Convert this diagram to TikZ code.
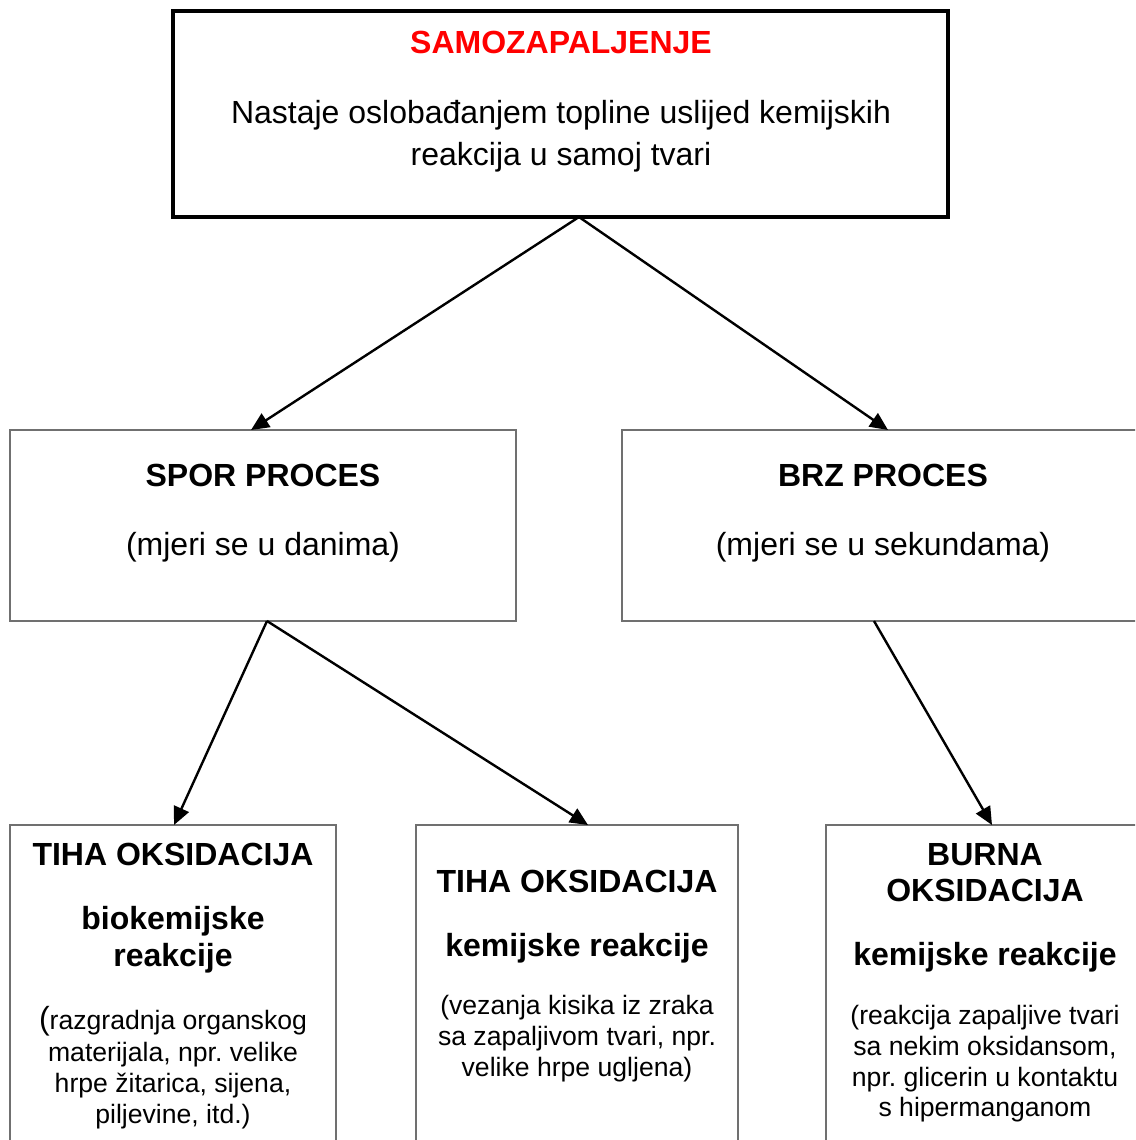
\documentclass[tikz,border=0pt]{standalone}
\usepackage{fontspec}
\setmainfont{Liberation Sans}
\usetikzlibrary{arrows.meta,calc}
\definecolor{boxgray}{HTML}{707070}
\definecolor{titlered}{HTML}{FF0000}
\frenchspacing
\begin{document}
\begin{tikzpicture}[x=1pt,y=-1pt,
  thinbox/.style={draw=boxgray,line width=1.4pt,outer sep=0pt,inner sep=0pt},
  thickbox/.style={draw=black,line width=4pt,outer sep=0pt,inner sep=0pt},
  big/.style={anchor=base,inner sep=0pt,font=\fontsize{32}{38}\selectfont},
  bigb/.style={anchor=base,inner sep=0pt,font=\fontsize{32}{38}\selectfont\bfseries},
  small/.style={anchor=base,inner sep=0pt,font=\fontsize{26.6}{31}\selectfont},
  conn/.style={line width=2.4pt,-{Triangle[length=18pt,width=16pt]}}]
\useasboundingbox (0,0) rectangle (1135,1140);
\clip (0,0) rectangle (1135,1140);
% boxes
\node[thickbox,minimum width=775pt,minimum height=206pt] (top) at (560.5,114) {};
\node[thinbox,minimum width=506pt,minimum height=191pt] (spor) at (263,525.5) {};
\node[thinbox,minimum width=522pt,minimum height=191pt] (brz) at (883,525.5) {};
\node[thinbox,minimum width=326pt,minimum height=375pt] (tiha1) at (173,1012.5) {};
\node[thinbox,minimum width=322pt,minimum height=375pt] (tiha2) at (577,1012.5) {};
\node[thinbox,minimum width=318pt,minimum height=375pt] (burna) at (985,1012.5) {};
% top texts
\node[bigb,text=titlered] (t1) at (561,53) {SAMOZAPALJENJE};
\node[big] (t2) at (561,123) {Nastaje oslobađanjem topline uslijed kemijskih};
\node[big] (t3) at (561,165) {reakcija u samoj tvari};
% spor / brz
\node[bigb] (s1) at (263,486) {SPOR PROCES};
\node[big] (s2) at (263,555) {(mjeri se u danima)};
\node[bigb] (b1) at (883,486) {BRZ PROCES};
\node[big] (b2) at (883,555) {(mjeri se u sekundama)};
% tiha 1
\node[bigb] (a1) at (173,865) {TIHA OKSIDACIJA};
\node[bigb] (a2) at (173,929) {biokemijske};
\node[bigb] (a3) at (173,966) {reakcije};
\node[small] (a4) at (173,1029) {{\fontsize{32}{38}\selectfont(}razgradnja organskog};
\node[small] (a5) at (173,1061) {materijala, npr. velike};
\node[small] (a6) at (173,1092) {hrpe žitarica, sijena,};
\node[small] (a7) at (173,1123) {piljevine, itd.)};
% tiha 2
\node[bigb] (c1) at (577,892) {TIHA OKSIDACIJA};
\node[bigb] (c2) at (577,956) {kemijske reakcije};
\node[small] (c3) at (577,1014) {(vezanja kisika iz zraka};
\node[small] (c4) at (577,1045) {sa zapaljivom tvari, npr.};
\node[small] (c5) at (577,1076) {velike hrpe ugljena)};
% burna
\node[bigb] (d1) at (985,865) {BURNA};
\node[bigb] (d2) at (985,901) {OKSIDACIJA};
\node[bigb] (d3) at (985,965) {kemijske reakcije};
\node[small] (d4) at (985,1024) {(reakcija zapaljive tvari};
\node[small] (d5) at (985,1055) {sa nekim oksidansom,};
\node[small] (d6) at (985,1086) {npr. glicerin u kontaktu};
\node[small] (d7) at (985,1116) {s hipermanganom};
% connectors
\draw[conn] ($(top.south)+(18.5,0)$) -- ($(spor.north)+(-12,0)$);
\draw[conn] ($(top.south)+(18.5,0)$) -- ($(brz.north)+(5,0)$);
\draw[conn] ($(spor.south)+(4,0)$) -- ($(tiha1.north)+(1,0)$);
\draw[conn] ($(spor.south)+(4,0)$) -- ($(tiha2.north)+(11,0)$);
\draw[conn] ($(brz.south)+(-9,0)$) -- ($(burna.north)+(7,0)$);
\end{tikzpicture}
\end{document}
